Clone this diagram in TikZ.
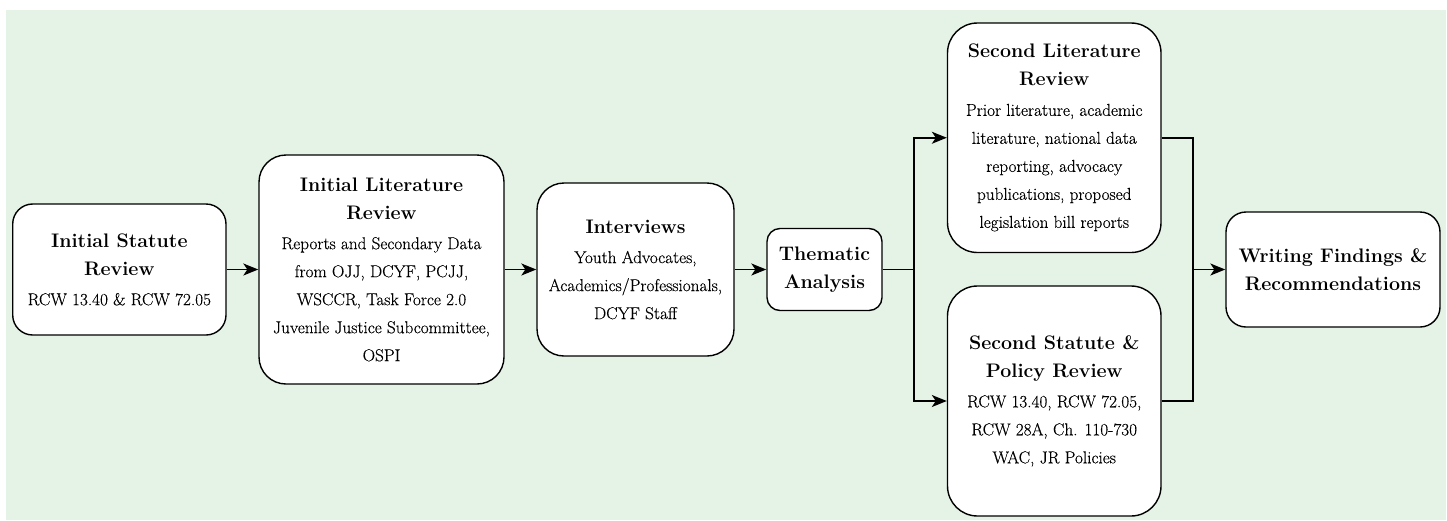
\documentclass[tikz,border=0pt]{standalone}
\usepackage{fontspec}
\newfontfamily\mybodyfamily{Latin Modern Roman}[FakeBold=0.3]
\usetikzlibrary{arrows.meta}
\definecolor{bggreen}{RGB}{229,243,230}
\newcommand{\myttl}[1]{{\rmfamily\fontsize{19.6}{28}\selectfont\bfseries #1}}
\tikzset{
  box/.style={draw=black, line width=1.4pt, fill=white, align=center, inner sep=0pt,
    font=\mybodyfamily\fontsize{17.2}{28}\selectfont},
  conn/.style={draw=black, line width=1.5pt},
  arr/.style={conn, -{Stealth[length=15pt,width=12pt,inset=4pt]}}
}
\begin{document}
\begin{tikzpicture}[x=1pt,y=-1pt]
\useasboundingbox (0,0) rectangle (1447,520);
\fill[white] (0,0) rectangle (1447,520);
\fill[bggreen] (6,10) rectangle (1446,520);

\node[box, minimum width=213.3pt, minimum height=131pt, rounded corners=20pt] (b1) at (119.35,269.5)
  {\myttl{Initial Statute}\\\myttl{Review}\\[2pt]RCW 13.40 \& RCW 72.05};
\node[box, minimum width=245pt, minimum height=229pt, rounded corners=27pt] (b2) at (381.5,269.5)
  {\myttl{Initial Literature}\\\myttl{Review}\\[2pt]Reports and Secondary Data\\from OJJ, DCYF, PCJJ,\\WSCCR, Task Force 2.0\\Juvenile Justice Subcommittee,\\OSPI};
\node[box, minimum width=197pt, minimum height=173pt, rounded corners=27pt] (b3) at (635.5,269.5)
  {\myttl{Interviews}\\[2pt]Youth Advocates,\\Academics/Professionals,\\DCYF Staff};
\node[box, minimum width=115pt, minimum height=82pt, rounded corners=13pt] (b4) at (824.5,269.5)
  {\myttl{Thematic}\\\myttl{Analysis}};
\node[box, minimum width=213.5pt, minimum height=229.5pt, rounded corners=30pt] (b5) at (1054.25,137.75)
  {\myttl{Second Literature}\\\myttl{Review}\\[2pt]Prior literature, academic\\literature, national data\\reporting, advocacy\\publications, proposed\\legislation bill reports};
\node[box, minimum width=213.5pt, minimum height=230pt, rounded corners=30pt] (b6) at (1054.25,401)
  {\myttl{Second Statute \&}\\\myttl{Policy Review}\\[2pt]RCW 13.40, RCW 72.05,\\RCW 28A, Ch. 110-730\\WAC, JR Policies};
\node[box, minimum width=214pt, minimum height=115pt, rounded corners=20pt] (b7) at (1333,269.5)
  {\myttl{Writing Findings \&}\\\myttl{Recommendations}};

\coordinate (j) at (914,269.5);
\coordinate (m) at (1193,269.5);

\draw[arr] (b1.east) -- (b2.west);
\draw[arr] (b2.east) -- (b3.west);
\draw[arr] (b3.east) -- (b4.west);
\draw[conn] (b4.east) -- (j);
\draw[arr] (j) |- (b5.west);
\draw[arr] (j) |- (b6.west);
\draw[conn] (b5.east) -| (m);
\draw[conn] (b6.east) -| (m);
\draw[arr] (m) -- (b7.west);
\end{tikzpicture}
\end{document}
